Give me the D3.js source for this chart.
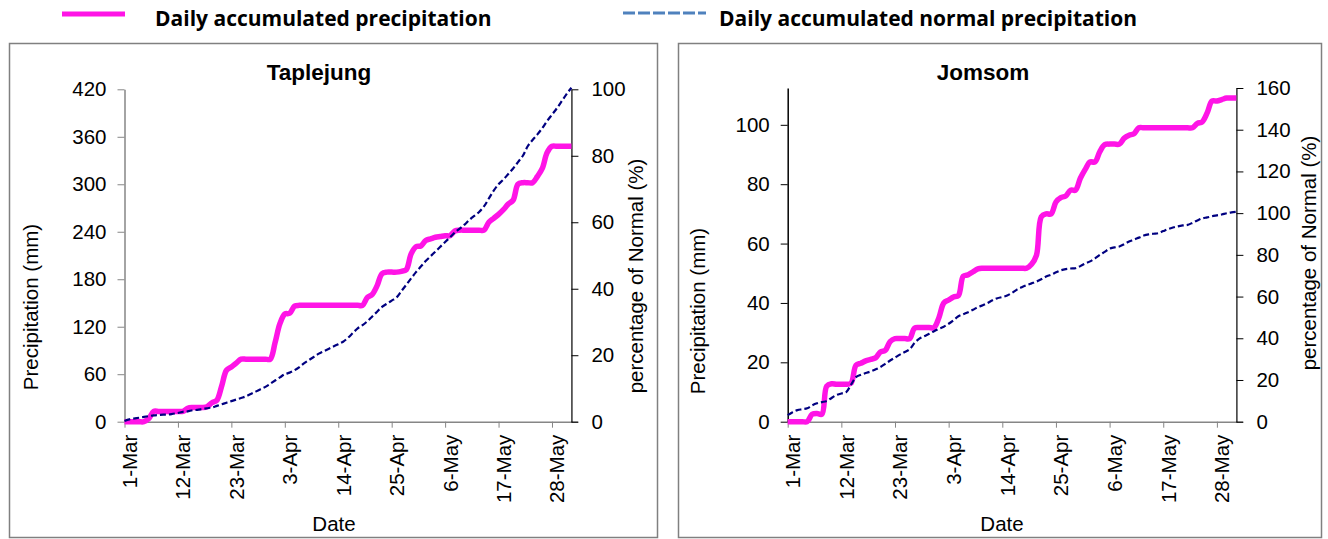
<!DOCTYPE html>
<html lang="en">
<head>
<meta charset="UTF-8">
<title>Daily accumulated precipitation</title>
<script src="https://cdnjs.cloudflare.com/ajax/libs/d3/7.8.5/d3.min.js"></script>
<style>
    body { margin: 0; background: #fff; }
    svg text { font-family: "Liberation Sans", Arial, sans-serif; fill: #000; }
    .legend text { font-family: "Open Sans", Lato, sans-serif; font-weight: bold; font-size: 21px; }
</style>
</head>
<body>
<svg width="1328" height="539"></svg>
<script>
// day index 0 = 1-Mar, 92 = 1-Jun
var tickDays = [0, 11, 22, 33, 44, 55, 66, 77, 88];
var tickLabels = ["1-Mar", "12-Mar", "23-Mar", "3-Apr", "14-Apr", "25-Apr", "6-May", "17-May", "28-May"];

var taplejungPrecip = [
    0, 0, 0, 0, 0,   4, 13, 13, 13, 13,   13, 13, 13, 17, 18,   18, 18, 19, 24, 27,
    45, 65, 69, 74, 79,   79, 79, 79, 79, 79,   79, 100, 124, 136, 137,   146, 147, 147, 147, 147,
    147, 147, 147, 147, 147,   147, 147, 147, 147, 147,   157, 161, 172, 187, 189,   189, 189, 190, 192, 212,
    221, 222, 229, 231, 233,   234, 235, 235, 241, 242,   242, 242, 242, 242, 242,   252, 257, 262, 268, 275,
    280, 300, 302, 302, 302,   310, 320, 340, 348, 348,   348, 348, 348
];
var taplejungNormal = [
    1, 3, 4, 5, 6,   7, 8, 8.5, 9, 9,   10, 11, 12.5, 13, 14.5,   15, 16, 17, 18, 20,
    22, 24, 26, 28, 30,   32, 35, 38, 41, 44,   48, 52, 56, 60, 62,   65, 69, 74, 78, 82,
    86, 89, 92, 95, 98,   101, 106, 112, 118, 122,   127, 133, 139, 145, 149,   153, 157, 165, 173, 181,
    189, 196, 203, 209, 215,   221, 227, 233, 239, 244,   249, 255, 260, 265, 272,   282, 292, 300, 306, 313,
    320, 328, 336, 348, 356,   363, 371, 380, 388, 396,   405, 414, 422
];
var jomsomPrecip = [
    0, 0, 0, 0, 0,   2.5, 2.8, 2.5, 12, 12.8,   12.6, 12.6, 12.6, 13, 19,   19.7, 20.5, 21, 21.5, 23.5,
    24, 27, 28, 28, 28,   28, 31.5, 31.7, 31.7, 31.7,   31.7, 35, 40, 41, 42,   42.5, 49, 49.5, 50.5, 51.5,
    51.7, 51.7, 51.7, 51.7, 51.7,   51.7, 51.7, 51.7, 51.7, 51.7,   53, 56, 69, 70, 70,   74, 75.5, 76, 78, 78,
    82, 85, 87.5, 87.5, 91,   93.3, 93.5, 93.5, 93.5, 95.5,   96.5, 97, 99, 99, 99,   99, 99, 99, 99, 99,
    99, 99, 99, 99, 100.5,   101, 104, 108, 108, 108.5,   109, 109, 109
];
var jomsomNormal = [
    2.2, 3.2, 3.9, 4.2, 4.5,   5.5, 6.2, 6.6, 7, 8,   9, 9.5, 10, 12.5, 15,   15.8, 16.4, 16.9, 17.6, 18.4,
    19.5, 20.6, 21.6, 22.6, 23.5,   24.4, 26.5, 28, 28.8, 29.6,   30.5, 31.3, 32, 33, 34.2,   35.5, 36.2, 36.9, 37.7, 38.6,
    39.2, 40, 40.9, 41.6, 42,   42.5, 43.4, 44.5, 45.3, 46,   46.6, 47.2, 48, 48.9, 49.5,   50.3, 51, 51.4, 51.6, 51.7,
    52.4, 53.3, 54, 55, 56.2,   57.2, 58.3, 58.7, 59, 59.8,   60.7, 61.3, 62, 62.7, 63.1,   63.3, 63.5, 64.2, 64.9, 65.4,
    65.8, 66.1, 66.3, 67, 67.8,   68.5, 68.8, 69.2, 69.5, 69.8,   70.2, 70.5, 70.7
];

var taplejungLeftTicks = [0, 60, 120, 180, 240, 300, 360, 420];
var taplejungRightTicks = [0, 20, 40, 60, 80, 100];
var jomsomLeftTicks = [0, 20, 40, 60, 80, 100];
var jomsomRightTicks = [0, 20, 40, 60, 80, 100, 120, 140, 160];

var svg = d3.select("svg");
var pink = "#ff14e6", navy = "#000080";

// legend
var legend = svg.append("g").attr("class", "legend");
legend.append("line").attr("x1", 62).attr("x2", 125).attr("y1", 14).attr("y2", 14)
    .attr("stroke", pink).attr("stroke-width", 5);
legend.append("text").attr("x", 155).attr("y", 26).text("Daily accumulated precipitation");
legend.append("line").attr("x1", 623).attr("x2", 706).attr("y1", 13).attr("y2", 13)
    .attr("stroke", "#4f81bd").attr("stroke-width", 3).attr("stroke-dasharray", "12,3");
legend.append("text").attr("x", 719).attr("y", 26).text("Daily accumulated normal precipitation");

var panels = [
    {title: "Taplejung", precip: taplejungPrecip, normal: taplejungNormal,
     frame: [9.5, 43.5, 648, 494], x0: 124.5, x1: 577.5, yTop: 89.3,
     leftMax: 420, leftTicks: taplejungLeftTicks, leftColor: "#868686",
     rightMax: 100, rightTicks: taplejungRightTicks,
     titleX: 319, leftTitle: [31, 307], rightTitle: [636, 276], dateX: 334},
    {title: "Jomsom", precip: jomsomPrecip, normal: jomsomNormal,
     frame: [678.5, 43.5, 643, 494], x0: 787.7, x1: 1242.5, yTop: 88,
     leftMax: 112.4, leftTicks: jomsomLeftTicks, leftColor: "#000",
     rightMax: 160, rightTicks: jomsomRightTicks,
     titleX: 983, leftTitle: [698, 311], rightTitle: [1309, 253], dateX: 1002}
];

var yBase = 421.7;

panels.forEach(function (p) {
    var g = svg.append("g");

    g.append("rect")
        .attr("x", p.frame[0]).attr("y", p.frame[1])
        .attr("width", p.frame[2]).attr("height", p.frame[3])
        .attr("fill", "none").attr("stroke", "#808080").attr("stroke-width", 1.5);

    var x = d3.scaleLinear().domain([0, 93.25]).range([p.x0, p.x1]);
    var yL = d3.scaleLinear().domain([0, p.leftMax]).range([yBase, p.yTop]);
    var yR = d3.scaleLinear().domain([0, p.rightMax]).range([yBase, p.yTop]);

    // x axis
    var xa = g.append("g")
        .attr("transform", "translate(0," + yBase + ")")
        .call(d3.axisBottom(x).tickValues(tickDays)
            .tickFormat(function (d, i) { return tickLabels[i]; })
            .tickSize(6).tickSizeOuter(0))
        .attr("color", "#868686")
        .attr("font-size", 20.5).attr("font-family", null);
    xa.selectAll("text")
        .attr("fill", "#000")
        .attr("transform", "rotate(-90)")
        .attr("text-anchor", "end")
        .attr("x", -13).attr("y", 0).attr("dy", "0.58em");
    xa.select(".domain").attr("stroke-width", 1.5);

    // left axis
    var la = g.append("g")
        .attr("transform", "translate(" + x(0) + ",0)")
        .call(d3.axisLeft(yL).tickValues(p.leftTicks).tickSize(7).tickPadding(11).tickSizeOuter(0))
        .attr("color", p.leftColor)
        .attr("font-size", 20.5).attr("font-family", null);
    la.selectAll("text").attr("fill", "#000");
    la.select(".domain").attr("stroke-width", 1.5);

    // right axis
    var ra = g.append("g")
        .attr("transform", "translate(" + x(92) + ",0)")
        .call(d3.axisRight(yR).tickValues(p.rightTicks).tickSize(7).tickPadding(13).tickSizeOuter(0))
        .attr("color", "#000")
        .attr("font-size", 20.5).attr("font-family", null);
    ra.select(".domain").attr("stroke-width", 1.2);

    var line = d3.line()
        .x(function (d, i) { return x(i); })
        .y(function (d) { return yL(d); })
        .curve(d3.curveCatmullRom);

    g.append("path").datum(p.precip)
        .attr("d", line)
        .attr("fill", "none").attr("stroke", pink).attr("stroke-width", 5.5)
        .attr("stroke-linejoin", "round");

    g.append("path").datum(p.normal)
        .attr("d", line)
        .attr("fill", "none").attr("stroke", navy).attr("stroke-width", 2.2)
        .attr("stroke-dasharray", "6,3");

    // titles
    g.append("text").attr("x", p.titleX).attr("y", 80)
        .attr("text-anchor", "middle").attr("font-weight", "bold").attr("font-size", 22.5)
        .text(p.title);

    g.append("text")
        .attr("transform", "translate(" + p.leftTitle[0] + "," + p.leftTitle[1] + ") rotate(-90)")
        .attr("text-anchor", "middle").attr("dy", "0.35em").attr("font-size", 20.5)
        .text("Precipitation (mm)");

    g.append("text")
        .attr("transform", "translate(" + p.rightTitle[0] + "," + p.rightTitle[1] + ") rotate(-90)")
        .attr("text-anchor", "middle").attr("dy", "0.35em").attr("font-size", 20.5)
        .text("percentage of Normal (%)");

    g.append("text").attr("x", p.dateX).attr("y", 531)
        .attr("text-anchor", "middle").attr("font-size", 20.5)
        .text("Date");
});
</script>
</body>
</html>
